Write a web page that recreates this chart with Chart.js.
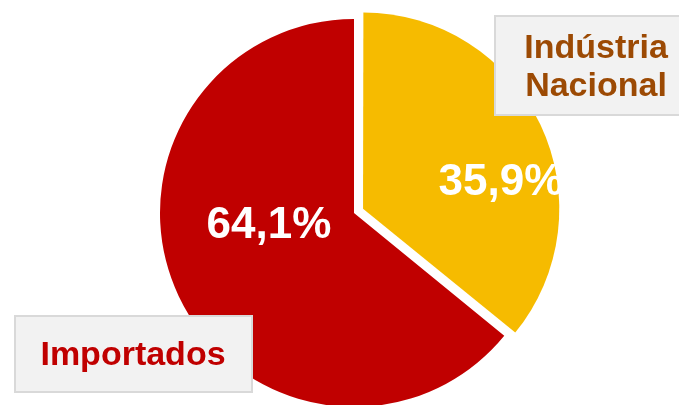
<!DOCTYPE html>
<html>
<head>
<meta charset="utf-8">
<script src="https://cdn.jsdelivr.net/npm/chart.js@4.4.1/dist/chart.umd.min.js"></script>
<style>
  html, body { margin: 0; padding: 0; background: #fff; }
  #wrap { width: 679px; height: 405px; position: relative; }
</style>
</head>
<body>
<div id="wrap"><canvas id="pieChart" width="679" height="405"></canvas></div>
<script>
// data
const labels = ['Indústria Nacional', 'Importados'];
const shares = [35.9, 64.1];
const colors = ['#F6BB00', '#C00000'];
const labelColors = ['#9C4A04', '#C00000'];

function fmtPct(v) {
    return v.toFixed(1).replace('.', ',') + '%';
}

// percentage text inside slices + callout boxes
const labelPlugin = {
    id: 'sliceLabels',
    afterDatasetsDraw(chart) {
        const ctx = chart.ctx;
        const arcs = chart.getDatasetMeta(0).data;
        const cx = arcs[1].x, cy = arcs[1].y;
        ctx.save();
        ctx.font = 'bold 44px "Liberation Sans", Arial, sans-serif';
        ctx.fillStyle = '#fff';
        ctx.textAlign = 'center';
        ctx.textBaseline = 'alphabetic';
        ctx.fillText(fmtPct(shares[0]), cx + 147, cy - 18);
        ctx.fillText(fmtPct(shares[1]), cx - 85, cy + 25);

        // boxes
        function box(x, y, w, h) {
            ctx.fillStyle = '#F2F2F2';
            ctx.fillRect(x, y, w, h);
            ctx.strokeStyle = '#D9D9D9';
            ctx.lineWidth = 2;
            ctx.strokeRect(x, y, w, h);
        }
        box(495, 16, 200, 99);
        box(15, 316, 237, 76);

        ctx.font = 'bold 34px "Liberation Sans", Arial, sans-serif';
        ctx.fillStyle = labelColors[0];
        const parts = labels[0].split(' ');
        ctx.fillText(parts[0], 596, 58);
        ctx.fillText(parts[1], 596, 96);
        ctx.fillStyle = labelColors[1];
        ctx.fillText(labels[1], 133, 365);
        ctx.restore();
    }
};

window.addEventListener('load', function () {
    const ctx = document.getElementById('pieChart').getContext('2d');
    new Chart(ctx, {
        type: 'pie',
        data: {
            labels: labels,
            datasets: [{
                data: shares,
                backgroundColor: colors,
                borderWidth: 0,
                // v4 shifts by offset/4 * (2 - sin(angle)) -> about 12px here
                offset: [40, 0],
                clip: false
            }]
        },
        options: {
            responsive: false,
            animation: false,
            radius: 194,
            layout: { padding: { left: 29, right: 0, top: 21, bottom: 0 } },
            plugins: {
                legend: { display: false },
                tooltip: { enabled: false }
            }
        },
        plugins: [labelPlugin]
    });
});
</script>
</body>
</html>
